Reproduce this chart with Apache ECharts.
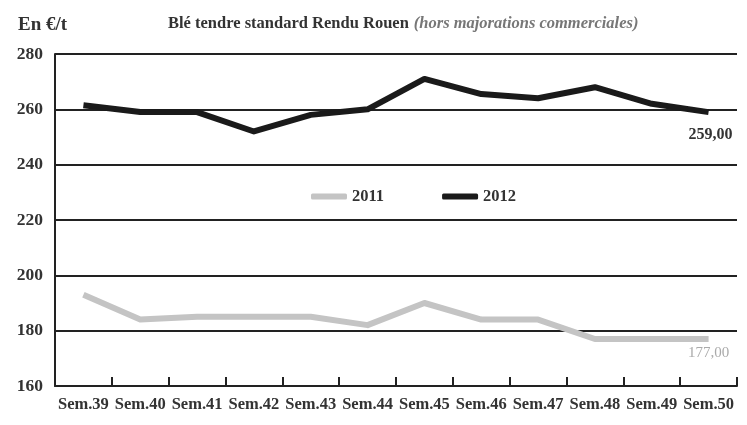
<!DOCTYPE html>
<html><head><meta charset="utf-8">
<script src="https://cdn.jsdelivr.net/npm/echarts@6/dist/echarts.min.js"></script>
<style>html,body{margin:0;padding:0;background:#fff}#c{width:747px;height:425px}</style>
</head><body><div id="c"></div>
<script>
const categories = ['Sem.39','Sem.40','Sem.41','Sem.42','Sem.43','Sem.44','Sem.45','Sem.46','Sem.47','Sem.48','Sem.49','Sem.50'];
const values2011 = [193, 184, 185, 185, 185, 182, 190, 184, 184, 177, 177, 177];
const values2012 = [261.5, 259, 259, 252, 258, 260, 271, 265.5, 264, 268, 262, 259];
const yTicks = [160, 180, 200, 220, 240, 260, 280];
const seriesNames = ['2011', '2012'];

const serif = '"Liberation Serif","DejaVu Serif",serif';
function withEndLabel(arr, style){
  return arr.map((v,i)=> i===arr.length-1 ? {value:v, label:Object.assign({show:true, position:'bottom', fontFamily:serif, formatter:()=>v.toFixed(2).replace('.',',')}, style)} : v);
}
const chart = echarts.init(document.getElementById('c'), null, {renderer:'canvas'});
chart.setOption({
  animation:false,
  backgroundColor:'#fff',
  title:{
    text:'{b|Blé tendre standard Rendu Rouen} {i|(hors majorations commerciales)}',
    left:163, top:10,
    textStyle:{rich:{
      b:{fontFamily:serif, fontWeight:'bold', fontSize:16.5, color:'#333'},
      i:{fontFamily:serif, fontStyle:'italic', fontSize:16.5, color:'#777'}
    }}
  },
  graphic:[{type:'text', left:18, top:16, style:{text:'En €/t', font:'bold 19px "Liberation Serif"', fill:'#333'}}],
  legend:{
    data:seriesNames, left:306, top:183, itemWidth:36, itemHeight:6, itemGap:58,
    icon:'roundRect',
    textStyle:{fontFamily:serif, fontWeight:'bold', fontSize:16.5, color:'#333'}
  },
  grid:{left:55, right:10, top:54, bottom:39, containLabel:false},
  xAxis:{
    type:'category', data:categories, boundaryGap:true,
    axisLine:{lineStyle:{color:'#222', width:2}},
    axisTick:{show:true, inside:true, length:9, lineStyle:{color:'#222', width:2}},
    axisLabel:{fontFamily:serif, fontWeight:'bold', fontSize:16.5, color:'#333', margin:10, interval:0}
  },
  yAxis:{
    type:'value', min:160, max:280, interval:20,
    axisLine:{show:true, lineStyle:{color:'#222', width:2}},
    axisTick:{show:false},
    axisLabel:{fontFamily:serif, fontWeight:'bold', fontSize:17.5, color:'#333', margin:12, customValues:yTicks},
    splitLine:{lineStyle:{color:'#222', width:2}}
  },
  series:[
    {name:'2011', type:'line', data:withEndLabel(values2011,{color:'#aaa', fontSize:15, offset:[0,2]}), symbol:'circle', symbolSize:0, showSymbol:true,
     lineStyle:{color:'#c4c4c4', width:6, join:'round'}, itemStyle:{color:'#c4c4c4'}, z:3},
    {name:'2012', type:'line', data:withEndLabel(values2012,{color:'#333', fontWeight:'bold', fontSize:16, offset:[2,10]}), symbol:'circle', symbolSize:0, showSymbol:true,
     lineStyle:{color:'#1a1a1a', width:6, join:'round'}, itemStyle:{color:'#1a1a1a'}, z:4}
  ]
});
</script></body></html>
